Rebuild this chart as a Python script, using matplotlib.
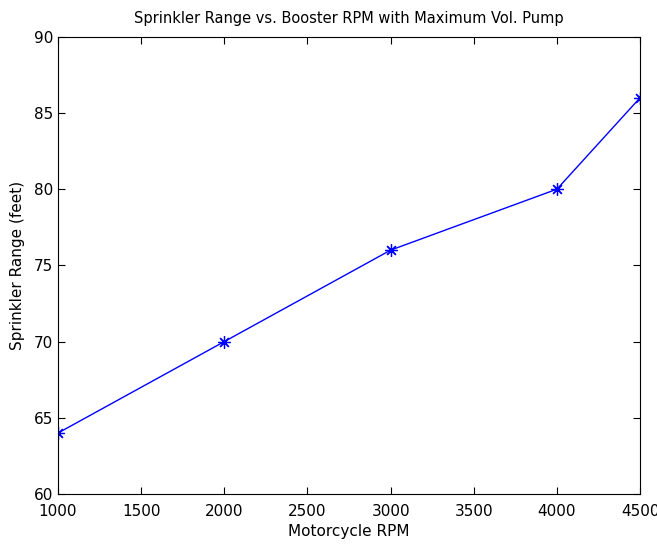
import matplotlib
matplotlib.use("Agg")
import matplotlib.pyplot as plt

rpm = [1000, 2000, 3000, 4000, 4500]
range_ft = [64, 70, 76, 80, 86]

x_ticks = [1000, 1500, 2000, 2500, 3000, 3500, 4000, 4500]
y_ticks = [60, 65, 70, 75, 80, 85, 90]

plt.rcParams["font.family"] = ["DejaVu Sans"]

fig = plt.figure(figsize=(6.57, 5.45), dpi=100)
ax = fig.add_axes([0.0883, 0.0936, 0.886, 0.839])

# MATLAB-style asterisk marker: 8 arms
ax.plot(rpm, range_ft, color="blue", linewidth=1.0, marker=(8, 2, 0),
        markersize=9, markeredgewidth=0.9)

ax.set_xlim(1000, 4500)
ax.set_ylim(60, 90)
ax.set_xticks(x_ticks)
ax.set_yticks(y_ticks)
ax.tick_params(direction="in", top=True, right=True, labelsize=11, length=5)
ax.tick_params(axis="x", pad=7)

ax.set_xlabel("Motorcycle RPM", fontsize=11, labelpad=4)
ax.set_ylabel("Sprinkler Range (feet)", fontsize=11, labelpad=6)
ax.set_title("Sprinkler Range vs. Booster RPM with Maximum Vol. Pump",
             fontsize=10.5, pad=10)

fig.savefig("out.png", dpi=100)
